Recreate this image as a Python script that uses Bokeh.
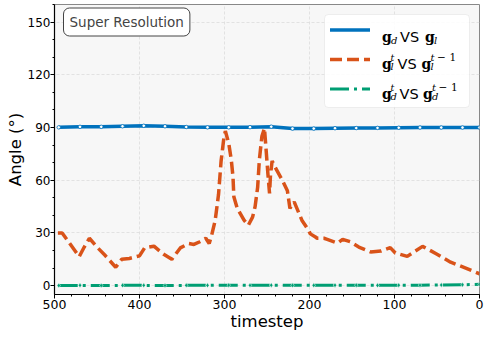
from bokeh.plotting import figure
from bokeh.models import Range1d, FixedTicker, Label, BoxAnnotation, ColumnDataSource
from bokeh.embed import file_html
from bokeh.resources import INLINE

# ---------------- data ----------------
t_blue = [495, 470, 445, 420, 395, 370, 345, 320, 295, 270, 245, 220, 195, 170, 145, 120, 95, 70, 45, 20, 0]
v_blue = [90.1, 90.4, 90.4, 90.7, 91.0, 90.7, 90.3, 90.1, 90.1, 90.2, 90.5, 89.4, 89.4, 89.6, 89.7, 89.8,
          89.9, 90.0, 90.0, 90.0, 90.0]

t_orange = [496, 491, 482, 471, 465, 459, 450, 440, 428, 421, 412, 400, 394, 383, 372, 362, 352, 342, 336, 329,
            322, 318, 315, 311, 307, 304, 301, 299, 295, 292, 290, 289, 285, 277, 272, 267, 264, 261, 259, 256,
            253, 251, 249, 247, 246, 244, 240, 232, 226, 223, 218, 209, 201, 199, 193, 191, 183, 180, 167, 161,
            152, 142, 128, 116, 105, 99, 85, 67, 51, 34, 14, 0]
v_orange = [30, 30, 24, 16.5, 22, 27, 22, 17, 10.5, 15, 15.5, 17, 21.5, 22.5, 18, 15, 21.5, 24, 23.5, 25,
            27, 24, 29, 37, 52, 71, 83, 88, 81, 71.5, 62, 50.6, 44, 37.3, 34.4, 39, 45, 56, 71.5, 85,
            89.6, 77, 64, 52.5, 62, 71, 67, 60, 54, 44, 47.7, 37.3, 31.5, 29.5, 27.7, 27, 27, 26.5, 24.3, 26.4,
            25, 22, 19.2, 19.7, 21.7, 18.6, 16.7, 22.4, 18.2, 13.4, 9.6, 6.8]

t_green = [495, 470, 445, 420, 395, 370, 345, 320, 295, 270, 245, 220, 195, 170, 145, 120, 95, 70, 45, 20, 0]
v_green = [0.1, 0.2, 0.1, 0.2, 0.2, 0.1, 0.2, 0.2, 0.3, 0.2, 0.3, 0.2, 0.2, 0.3, 0.3, 0.2, 0.3, 0.3, 0.4, 0.5, 0.8]

x_ticks = [0, 100, 200, 300, 400, 500]
y_ticks = [0, 30, 60, 90, 120, 150]
x_minor = list(range(0, 501, 20))
y_minor = list(range(0, 161, 10))

BLUE = "#0072BD"
ORANGE = "#D95319"
GREEN = "#009E73"

# ---------------- layout ----------------
W, H = 488, 338
FL, FT, FW, FH = 54, 4, 425, 290
XMAX, XMIN = 500, 0
YMIN, YMAX = -5, 160


def X(px):
    return XMAX - (px - FL) / FW * (XMAX - XMIN)


def Y(py):
    return YMAX - (py - FT) / FH * (YMAX - YMIN)


p = figure(width=W, height=H, x_range=Range1d(XMAX, XMIN), y_range=Range1d(YMIN, YMAX),
           output_backend="svg", toolbar_location=None,
           min_border_left=FL, min_border_right=W - FL - FW,
           min_border_top=FT, min_border_bottom=H - FT - FH)

p.background_fill_color = "#f7f7f7"
p.border_fill_color = "white"
p.outline_line_color = "#888888"
p.outline_line_width = 1

for ax in (p.xaxis[0], p.yaxis[0]):
    ax.axis_line_color = "black"
    ax.axis_line_width = 1.2
    ax.major_tick_line_color = "black"
    ax.minor_tick_line_color = "black"
    ax.major_tick_out = 4
    ax.major_tick_in = 0
    ax.minor_tick_out = 2
    ax.minor_tick_in = 0
    ax.major_label_text_font = "DejaVu Sans"
    ax.major_label_text_font_size = "12.5px"
    ax.major_label_text_color = "black"
    ax.axis_label_text_font = "DejaVu Sans"
    ax.axis_label_text_font_size = "16.5px"
    ax.axis_label_text_font_style = "normal"
    ax.axis_label_text_color = "black"
    ax.axis_label_text_line_height = 1.0
    ax.major_label_standoff = 1
    ax.axis_label_standoff = 0

p.yaxis[0].major_label_text_font_size = "12px"
p.yaxis[0].major_label_standoff = 0

p.xaxis[0].ticker = FixedTicker(ticks=x_ticks, minor_ticks=x_minor)
p.yaxis[0].ticker = FixedTicker(ticks=y_ticks, minor_ticks=y_minor)
p.xaxis[0].axis_label = "timestep"
p.yaxis[0].axis_label = "Angle (°)"

for g in (p.xgrid[0], p.ygrid[0]):
    g.grid_line_color = "#dcdcdc"
    g.grid_line_dash = "3 2"
    g.grid_line_width = 0.8

src_b = ColumnDataSource(dict(t=t_blue, v=v_blue))
src_o = ColumnDataSource(dict(t=t_orange, v=v_orange))
src_g = ColumnDataSource(dict(t=t_green, v=v_green))

p.line("t", "v", source=src_b, line_color=BLUE, line_width=3.5)
p.scatter("t", "v", source=src_b, marker="circle", size=3.5, fill_color="white",
          line_color=BLUE, line_width=0.8)
p.line("t", "v", source=src_o, line_color=ORANGE, line_width=3.5, line_dash="12 5")
p.line("t", "v", source=src_g, line_color=GREEN, line_width=3, line_dash="19 5 3 5")
p.scatter("t", "v", source=src_g, marker="diamond", size=5, fill_color=GREEN,
          line_color="white", line_width=0.5)

# ---------------- "Super Resolution" box ----------------
p.add_layout(Label(x=X(63), y=Y(21.5), text="Super Resolution", text_font="DejaVu Sans",
                   text_font_size="13.5px", text_color="#444444", text_baseline="middle",
                   text_align="left", background_fill_color="white", border_line_color="#444444",
                   border_line_width=1, border_radius=6, padding=6))

# ---------------- legend ----------------
p.add_layout(BoxAnnotation(left=X(324), right=X(469), top=Y(14), bottom=Y(107),
                           fill_color="white", fill_alpha=0.9, line_color="#cccccc",
                           line_width=1, border_radius=4, level="underlay"))

lx0, lx1 = X(329.5), X(369.5)
p.line([lx0, lx1], [Y(29.5), Y(29.5)], line_color=BLUE, line_width=3.5)
p.line([lx0, lx1], [Y(59), Y(59)], line_color=ORANGE, line_width=3.5, line_dash="12 5")
p.line([lx0, lx1], [Y(88.5), Y(88.5)], line_color=GREEN, line_width=3, line_dash="19 5 3 5")


def txt(s, px, py, size, font="DejaVu Serif", style="normal"):
    p.add_layout(Label(x=X(px), y=Y(py), text=s, text_font=font, text_font_size=f"{size}px",
                       text_font_style=style, text_color="black", text_baseline="alphabetic",
                       text_align="left"))


# row 1: g_d VS g_l
b = 36.7
txt("g", 381.5, b, 14, style="bold")
txt("d", 390.5, b + 3, 10, style="italic")
txt("VS", 399.5, b, 14.5, font="DejaVu Sans")
txt("g", 424.5, b, 14, style="bold")
txt("l", 433.5, b + 3, 10, style="italic")

# row 2: g_l^t VS g_l^{t-1}
b = 63.3
txt("g", 381.5, b, 14, style="bold")
txt("t", 390, b - 6.5, 9.5, style="italic")
txt("l", 390, b + 3, 10, style="italic")
txt("VS", 397, b, 14.5, font="DejaVu Sans")
txt("g", 421, b, 14, style="bold")
txt("t", 430, b - 6.5, 10, style="italic")
txt("−", 436.5, b - 6.5, 10.5)
txt("1", 449, b - 6.5, 10.5)
txt("l", 430, b + 3, 10, style="italic")

# row 3: g_d^t VS g_d^{t-1}
b = 93.3
txt("g", 381.5, b, 14, style="bold")
txt("t", 390, b - 6.5, 9.5, style="italic")
txt("d", 390, b + 3, 10, style="italic")
txt("VS", 399, b, 14.5, font="DejaVu Sans")
txt("g", 422.5, b, 14, style="bold")
txt("t", 431.5, b - 6.5, 10, style="italic")
txt("−", 438, b - 6.5, 10.5)
txt("1", 450.5, b - 6.5, 10.5)
txt("d", 431.5, b + 3, 10, style="italic")

open("out.html", "w").write(file_html(p, INLINE))
